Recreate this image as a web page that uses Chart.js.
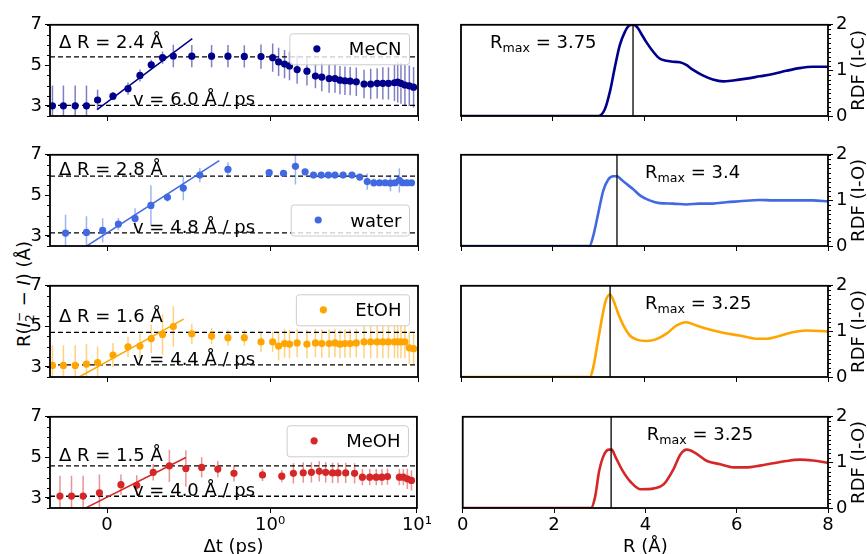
<!DOCTYPE html>
<html lang="en">

<head>
    <meta charset="UTF-8" />
    <title>I2- dissociation and RDF</title>
    <script src="https://cdn.jsdelivr.net/npm/chart.js"></script>
    <style>
        body { margin: 0; width: 867px; height: 554px; position: relative; overflow: hidden; background: #fff;
               font-family: "DejaVu Sans", sans-serif; }
        canvas { position: absolute; }
        #ylab { position: absolute; left: 24px; top: 294px; transform: translate(-50%, -50%) rotate(-90deg);
                white-space: nowrap; font-size: 18px; color: #000; }
        .ss { display: inline-block; vertical-align: -4px; font-size: 12px; line-height: 11px; }
        .ss span { display: block; }
    </style>
</head>

<body>
    <div id="ylab">R(<i>I</i><span class="ss"><span>−</span><span>2</span></span> − <i>I</i>) (Å)</div>

    <script>
        // ----------- data ------------
        const solvents = ['MeCN', 'water', 'EtOH', 'MeOH'];

        const tMeCN = [-0.335, -0.268, -0.196, -0.127, -0.059, 0.035, 0.127, 0.2, 0.269, 0.338, 0.404, 0.517, 0.638, 0.738, 0.838, 0.94,
            1.03, 1.13, 1.24, 1.34, 1.51, 1.76, 2.01, 2.22, 2.49, 2.73, 2.95, 3.19, 3.46, 3.81, 4.3, 4.77, 5.28, 5.77, 6.3, 6.92, 7.28, 7.66, 8.15, 8.73, 9.33];
        const rMeCN = [3.0, 3.0, 3.0, 3.0, 3.29, 3.48, 3.85, 4.5, 5.03, 5.38, 5.46, 5.45, 5.45, 5.45, 5.44, 5.43,
            5.38, 5.17, 5.06, 4.97, 4.79, 4.71, 4.47, 4.42, 4.35, 4.35, 4.27, 4.24, 4.22, 4.19, 4.08, 4.08, 4.11, 4.11, 4.11, 4.14, 4.17, 4.11, 4.03, 3.99, 3.92];
        const errMeCN = [1.0, 1.0, 1.0, 1.0, 0.5, 0.2, 0.3, 0.3, 0.25, 0.3, 0.55, 0.55, 0.55, 0.55, 0.55, 0.6,
            0.7, 0.7, 0.7, 0.7, 0.7, 0.7, 0.6, 0.7, 0.7, 0.7, 0.7, 0.7, 0.7, 0.7, 0.7, 0.75, 0.75, 0.8, 0.8, 0.9, 1.0, 1.0, 1.0, 1.0, 1.0];

        const tWater = [-0.255, -0.127, -0.028, 0.068, 0.17, 0.267, 0.368, 0.465, 0.566, 0.738, 0.99, 1.22, 1.47, 1.71, 1.95, 2.2,
            2.46, 2.73, 3.1, 3.56, 4.02, 4.52, 5.01, 5.48, 5.98, 6.5, 6.98, 7.47, 7.87, 8.41, 9.03];
        const rWater = [3.14, 3.17, 3.27, 3.58, 3.86, 4.5, 4.9, 5.36, 6.0, 6.28, 6.12, 6.09, 6.43, 6.16, 6.0, 6.0,
            6.0, 6.0, 6.0, 6.0, 5.9, 5.68, 5.62, 5.62, 5.62, 5.6, 5.62, 5.74, 5.62, 5.62, 5.62];
        const errWater = [0.9, 0.8, 0.6, 0.3, 0.5, 1.0, 0.2, 0.6, 0.35, 0.35, 0.1, 0.1, 0.9, 0.1, 0.05, 0.05,
            0.05, 0.05, 0.05, 0.05, 0.1, 0.4, 0.2, 0.15, 0.1, 0.4, 0.1, 0.6, 0.1, 0.1, 0.1];

        const tEtOH = [-0.335, -0.268, -0.196, -0.127, -0.059, 0.035, 0.127, 0.2, 0.269, 0.338, 0.404, 0.517, 0.638, 0.738, 0.838, 0.94,
            1.03, 1.13, 1.24, 1.34, 1.51, 1.76, 2.01, 2.22, 2.49, 2.73, 2.95, 3.19, 3.46, 3.81, 4.3, 4.77, 5.28, 5.77, 6.3, 6.92, 7.28, 7.66, 8.15, 8.73, 9.33];
        const rEtOH = [3.07, 3.07, 3.07, 3.14, 3.21, 3.58, 3.99, 4.03, 4.39, 4.6, 4.99, 4.63, 4.52, 4.44, 4.44, 4.23,
            4.23, 4.03, 4.15, 4.12, 4.18, 4.12, 4.18, 4.15, 4.15, 4.18, 4.12, 4.15, 4.15, 4.18, 4.23, 4.23, 4.23, 4.23, 4.23, 4.23, 4.23, 4.23, 4.23, 3.94, 3.9];
        const errEtOH = [1.0, 1.0, 1.0, 1.0, 0.8, 0.6, 0.5, 0.6, 0.7, 1.0, 1.0, 0.5, 0.4, 0.4, 0.4, 0.5,
            0.5, 0.7, 0.7, 0.7, 0.7, 0.7, 0.7, 0.7, 0.7, 0.7, 0.7, 0.7, 0.7, 0.7, 0.8, 0.8, 0.8, 0.8, 0.8, 0.8, 0.8, 0.8, 0.8, 0.8, 0.8];

        const tMeOH = [-0.289, -0.218, -0.147, -0.047, 0.085, 0.182, 0.283, 0.382, 0.483, 0.58, 0.679, 0.778, 0.953, 1.2, 1.44, 1.68,
            1.91, 2.16, 2.39, 2.66, 2.9, 3.27, 3.76, 4.25, 4.77, 5.28, 5.77, 6.3, 7.59, 8.08, 8.6, 9.18];
        const rMeOH = [3.09, 3.09, 3.09, 3.25, 3.65, 3.62, 4.26, 4.58, 4.45, 4.5, 4.42, 4.21, 4.13, 4.07, 4.21, 4.24,
            4.26, 4.31, 4.26, 4.23, 4.23, 4.23, 4.21, 4.02, 4.02, 4.02, 4.02, 4.05, 4.02, 4.02, 3.94, 3.86];
        const errMeOH = [1.0, 1.0, 1.0, 0.9, 0.5, 0.5, 0.4, 0.8, 0.9, 0.5, 0.4, 0.4, 0.3, 0.3, 0.5, 0.5,
            0.5, 0.5, 0.5, 0.5, 0.5, 0.5, 0.5, 0.4, 0.4, 0.4, 0.4, 0.4, 0.4, 0.4, 0.5, 0.5];

        // levels of the dashed lines, fitted lines (two end points each), annotations
        const rLow = [3.02, 3.15, 3.1, 3.08];
        const rHigh = [5.42, 5.95, 4.7, 4.58];
        const deltaR = [2.4, 2.8, 1.6, 1.5];
        const speed = [6.0, 4.8, 4.4, 4.0];
        const fitT = [[-0.062, 0.52], [-0.127, 0.685], [-0.174, 0.467], [-0.134, 0.483]];
        const fitR = [[2.81, 6.32], [2.49, 6.71], [2.49, 5.36], [2.49, 4.99]];

        // radial distribution functions
        const rdfRMeCN = [0, 3.0, 3.14, 3.25, 3.35, 3.46, 3.57, 3.66, 3.75, 3.84, 3.92, 4.04, 4.19, 4.33, 4.48, 4.62, 4.77, 4.91,
            5.06, 5.27, 5.49, 5.71, 5.93, 6.22, 6.51, 6.8, 7.09, 7.38, 7.67, 8.0];
        const rdfGMeCN = [0, 0, 0.16, 0.55, 1.05, 1.55, 1.84, 1.98, 2.0, 1.95, 1.82, 1.62, 1.41, 1.26, 1.21, 1.19, 1.18, 1.12,
            1.01, 0.89, 0.8, 0.76, 0.78, 0.82, 0.87, 0.92, 0.99, 1.05, 1.08, 1.08];
        const rdfRWater = [0, 2.8, 2.88, 2.99, 3.1, 3.21, 3.32, 3.4, 3.48, 3.57, 3.75, 3.9, 4.11, 4.33, 4.62, 4.91, 5.2, 5.49,
            5.78, 6.07, 6.51, 6.8, 7.23, 7.67, 8.0];
        const rdfGWater = [0, 0, 0.21, 0.71, 1.21, 1.46, 1.53, 1.53, 1.47, 1.39, 1.25, 1.11, 1.0, 0.94, 0.93, 0.91, 0.93, 0.93,
            0.96, 0.98, 1.01, 1.0, 1.0, 1.0, 0.98];
        const rdfREtOH = [0, 2.81, 2.88, 2.97, 3.07, 3.15, 3.25, 3.33, 3.43, 3.54, 3.68, 3.83, 4.04, 4.26, 4.48, 4.7, 4.91,
            5.13, 5.42, 5.71, 6.07, 6.43, 6.65, 6.94, 7.23, 7.52, 8.0];
        const rdfGEtOH = [0, 0, 0.2, 0.7, 1.27, 1.66, 1.81, 1.66, 1.38, 1.13, 0.91, 0.82, 0.79, 0.83, 0.95, 1.13, 1.2,
            1.13, 1.04, 0.97, 0.91, 0.84, 0.84, 0.9, 0.98, 1.02, 1.0];
        const rdfRMeOH = [0, 2.81, 2.9, 2.99, 3.1, 3.21, 3.26, 3.35, 3.5, 3.68, 3.9, 4.19, 4.41, 4.62, 4.77, 4.91, 5.09,
            5.35, 5.64, 5.93, 6.22, 6.51, 6.8, 7.09, 7.38, 7.67, 8.0];
        const rdfGMeOH = [0, 0, 0.25, 0.82, 1.18, 1.28, 1.28, 1.11, 0.82, 0.57, 0.41, 0.43, 0.53, 0.86, 1.18, 1.28, 1.21,
            1.03, 0.96, 0.89, 0.89, 0.93, 0.98, 1.03, 1.06, 1.04, 0.99];
        const rMax = [3.75, 3.4, 3.25, 3.25];
        const rdfLabels = ['RDF (I-C)', 'RDF (I-O)', 'RDF (I-O)', 'RDF (I-O)'];

        // ticks
        const tTicks = [0, 1, 10];
        const tTickLabels = ['0', '10⁰', '10¹'];
        const rTicks = [3, 5, 7];
        const rdfXTicks = [0, 2, 4, 6, 8];
        const rdfYTicks = [0, 1, 2];

        const times = [tMeCN, tWater, tEtOH, tMeOH];
        const distances = [rMeCN, rWater, rEtOH, rMeOH];
        const errors = [errMeCN, errWater, errEtOH, errMeOH];
        const rdfR = [rdfRMeCN, rdfRWater, rdfREtOH, rdfRMeOH];
        const rdfG = [rdfGMeCN, rdfGWater, rdfGEtOH, rdfGMeOH];

        // ----------- style ------------
        const colors = ['#00008b', '#4169e1', '#ffa500', '#d62728'];
        const errColors = ['rgba(0,0,139,0.5)', 'rgba(65,105,225,0.5)', 'rgba(255,165,0,0.5)', 'rgba(214,39,40,0.5)'];
        const rowTop = [23, 153, 284, 415];
        const plotH = 93;
        const FONT = '"DejaVu Sans", sans-serif';
        const legendAtBottom = [false, true, false, false];
        const dRBase = [23, 19.7, 36, 44.3];
        const rmaxX = [29, 184, 184, 184];

        Chart.defaults.font.family = FONT;
        Chart.defaults.font.size = 18;
        Chart.defaults.color = '#000';

        // ----------- symlog axis (linthresh 1, linscale 1) ------------
        const LIN = 1 / (1 - 1 / 10);
        function symlog(v) {
            const a = Math.abs(v);
            const s = a <= 1 ? a * LIN : LIN + Math.log10(a);
            return v < 0 ? -s : s;
        }
        function symexp(u) {
            const a = Math.abs(u);
            const s = a <= LIN ? a / LIN : Math.pow(10, a - LIN);
            return u < 0 ? -s : s;
        }
        class SymlogScale extends Chart.LinearScale {
            getPixelForValue(value) {
                const lo = symlog(this.min), hi = symlog(this.max);
                return this.getPixelForDecimal((symlog(value) - lo) / (hi - lo));
            }
            getValueForPixel(pixel) {
                const lo = symlog(this.min), hi = symlog(this.max);
                return symexp(lo + this.getDecimalForPixel(pixel) * (hi - lo));
            }
        }
        SymlogScale.id = 'symlog';
        SymlogScale.defaults = {};
        Chart.register(SymlogScale);

        function makeCanvas(left, top, w, h) {
            const c = document.createElement('canvas');
            c.width = w; c.height = h;
            c.style.left = left + 'px'; c.style.top = top + 'px';
            document.body.appendChild(c);
            return c;
        }

        const tickGrid = { drawOnChartArea: false, drawTicks: true, tickLength: 5, color: '#000', lineWidth: 1 };

        // frame, minor ticks, error bars and text
        function decor(i, side) {
            return {
                id: 'decor' + side + i,
                beforeDatasetsDraw(chart) {
                    const ds = chart.data.datasets[0];
                    if (!ds.errors) return;
                    const { ctx, chartArea: a } = chart;
                    const ys = chart.scales.y;
                    const meta = chart.getDatasetMeta(0);
                    ctx.save();
                    ctx.beginPath();
                    ctx.rect(a.left, a.top, a.right - a.left, a.bottom - a.top);
                    ctx.clip();
                    ctx.strokeStyle = errColors[i];
                    ctx.lineWidth = 1.5;
                    meta.data.forEach((pt, k) => {
                        const y = ds.data[k].y, e = ds.errors[k];
                        ctx.beginPath();
                        ctx.moveTo(pt.x, ys.getPixelForValue(y - e));
                        ctx.lineTo(pt.x, ys.getPixelForValue(y + e));
                        ctx.stroke();
                    });
                    ctx.restore();
                },
                afterDatasetsDraw(chart) {
                    const { ctx, chartArea: a } = chart;
                    const ys = chart.scales.y;
                    ctx.save();
                    ctx.fillStyle = '#000';
                    ctx.textAlign = 'left';
                    ctx.textBaseline = 'alphabetic';
                    ctx.font = '18px ' + FONT;
                    if (side === 'L') {
                        ctx.fillText('Δ R = ' + deltaR[i].toFixed(1) + ' Å', a.left + 9, a.top + dRBase[i]);
                        ctx.fillText('v = ' + speed[i].toFixed(1) + ' Å / ps', a.left + 83, ys.getPixelForValue(rLow[i]));
                        // legend
                        const label = solvents[i];
                        const tw = ctx.measureText(label).width;
                        const bw = tw + 67, bh = 31;
                        const bx = a.right - 8.5 - bw;
                        const by = legendAtBottom[i] ? a.bottom - 10 - bh : a.top + 9;
                        ctx.beginPath();
                        ctx.roundRect(bx, by, bw, bh, 3);
                        ctx.fillStyle = 'rgba(255,255,255,0.8)';
                        ctx.fill();
                        ctx.strokeStyle = '#cccccc';
                        ctx.lineWidth = 1;
                        ctx.stroke();
                        ctx.beginPath();
                        ctx.arc(bx + 27, by + 15, 3.6, 0, Math.PI * 2);
                        ctx.fillStyle = colors[i];
                        ctx.fill();
                        ctx.fillStyle = '#000';
                        ctx.fillText(label, bx + 59, by + 21.5);
                    } else {
                        const x0 = a.left + rmaxX[i], yb = a.top + 23.5;
                        ctx.fillText('R', x0, yb);
                        const w1 = ctx.measureText('R').width;
                        ctx.font = '12.6px ' + FONT;
                        ctx.fillText('max', x0 + w1, yb + 4);
                        const w2 = ctx.measureText('max').width;
                        ctx.font = '18px ' + FONT;
                        ctx.fillText(' = ' + rMax[i], x0 + w1 + w2, yb);
                    }
                    ctx.restore();
                },
                afterDraw(chart) {
                    const { ctx, chartArea: a } = chart;
                    const ys = chart.scales.y;
                    ctx.save();
                    ctx.strokeStyle = '#000';
                    ctx.lineWidth = 1;
                    // minor ticks on the y axis
                    const step = side === 'L' ? 0.5 : 0.1;
                    for (let v = ys.min; v <= ys.max + 1e-9; v += step) {
                        const py = Math.round(ys.getPixelForValue(v)) + 0.5;
                        ctx.beginPath();
                        if (side === 'L') { ctx.moveTo(a.left - 3, py); ctx.lineTo(a.left, py); }
                        else { ctx.moveTo(a.right, py); ctx.lineTo(a.right + 3, py); }
                        ctx.stroke();
                    }
                    ctx.lineWidth = 1.8;
                    ctx.strokeRect(a.left, a.top, a.right - a.left, a.bottom - a.top);
                    if (side === 'R') {
                        ctx.translate(a.right + 31, (a.top + a.bottom) / 2);
                        ctx.rotate(-Math.PI / 2);
                        ctx.font = '18px ' + FONT;
                        ctx.fillStyle = '#000';
                        ctx.textAlign = 'center';
                        ctx.textBaseline = 'middle';
                        ctx.fillText(rdfLabels[i], 0, 0);
                    }
                    ctx.restore();
                }
            };
        }

        const tMin = -0.35, tMax = 10;

        function leftChart(i) {
            const isBottom = i === 3;
            const canvas = makeCanvas(0, rowTop[i] - 12, 434, 12 + plotH + 46);
            const t = times[i], r = distances[i];
            new Chart(canvas, {
                type: 'line',
                data: {
                    datasets: [
                        {
                            data: t.map((x, k) => ({ x, y: r[k] })), errors: errors[i], showLine: false,
                            pointRadius: 3.6, pointBackgroundColor: colors[i], pointBorderWidth: 0
                        },
                        {
                            data: fitT[i].map((x, k) => ({ x, y: fitR[i][k] })),
                            borderColor: colors[i], borderWidth: 1.5, pointRadius: 0
                        },
                        {
                            data: [{ x: tMin, y: rHigh[i] }, { x: tMax, y: rHigh[i] }],
                            borderColor: '#000', borderWidth: 1.3, borderDash: [5, 3], pointRadius: 0
                        },
                        {
                            data: [{ x: tMin, y: rLow[i] }, { x: tMax, y: rLow[i] }],
                            borderColor: '#000', borderWidth: 1.3, borderDash: [5, 3], pointRadius: 0
                        }
                    ]
                },
                options: {
                    responsive: false,
                    animation: false,
                    events: [],
                    layout: { padding: { top: 12, right: 16, left: 0, bottom: 0 }, autoPadding: false },
                    plugins: { legend: { display: false }, tooltip: { enabled: false } },
                    scales: {
                        x: {
                            type: 'symlog', min: tMin, max: tMax,
                            afterBuildTicks: s => { s.ticks = tTicks.map(v => ({ value: v })); },
                            afterFit: s => { s.height = 46; },
                            grid: tickGrid, border: { display: false },
                            ticks: { display: isBottom, autoSkip: false, maxRotation: 0, padding: 2, callback: (v, k) => tTickLabels[k] },
                            title: { display: isBottom, text: 'Δt (ps)', padding: { top: 0, bottom: -4 } }
                        },
                        y: {
                            type: 'linear', position: 'left', min: 2.5, max: 7,
                            afterBuildTicks: s => { s.ticks = rTicks.map(v => ({ value: v })); },
                            afterFit: s => { s.width = 50; },
                            grid: tickGrid, border: { display: false },
                            ticks: { padding: 3 }
                        }
                    }
                },
                plugins: [decor(i, 'L')]
            });
        }

        function rightChart(i) {
            const isBottom = i === 3;
            const canvas = makeCanvas(455, rowTop[i] - 12, 413, 12 + plotH + 46);
            new Chart(canvas, {
                type: 'line',
                data: {
                    datasets: [
                        {
                            data: [{ x: rMax[i], y: 0 }, { x: rMax[i], y: 2 }],
                            borderColor: '#000', borderWidth: 1.3, pointRadius: 0
                        },
                        {
                            data: rdfR[i].map((x, k) => ({ x, y: rdfG[i][k] })),
                            borderColor: colors[i], borderWidth: 2.6, pointRadius: 0, cubicInterpolationMode: 'monotone'
                        }
                    ]
                },
                options: {
                    responsive: false,
                    animation: false,
                    events: [],
                    layout: { padding: { top: 12, right: 0, left: 6, bottom: 0 }, autoPadding: false },
                    plugins: { legend: { display: false }, tooltip: { enabled: false } },
                    scales: {
                        x: {
                            type: 'linear', min: 0, max: 8,
                            afterBuildTicks: s => { s.ticks = rdfXTicks.map(v => ({ value: v })); },
                            afterFit: s => { s.height = 46; },
                            grid: tickGrid, border: { display: false },
                            ticks: { display: isBottom, autoSkip: false, maxRotation: 0, padding: 2 },
                            title: { display: isBottom, text: 'R (Å)', padding: { top: 0, bottom: -4 } }
                        },
                        y: {
                            type: 'linear', position: 'right', min: 0, max: 2,
                            afterBuildTicks: s => { s.ticks = rdfYTicks.map(v => ({ value: v })); },
                            afterFit: s => { s.width = 40; },
                            grid: tickGrid, border: { display: false },
                            ticks: { padding: 3 }
                        }
                    }
                },
                plugins: [decor(i, 'R')]
            });
        }

        for (let i = 0; i < 4; i++) {
            leftChart(i);
            rightChart(i);
        }
    </script>
</body>

</html>
